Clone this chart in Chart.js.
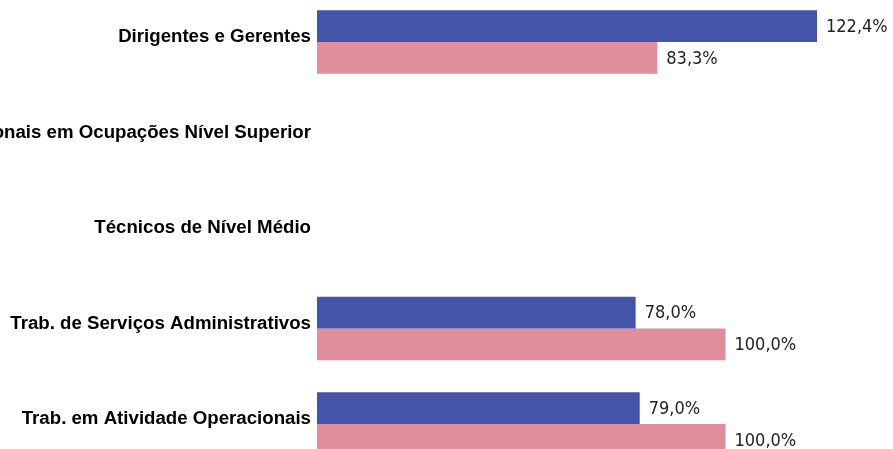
<!DOCTYPE html>
<html>
<head>
<meta charset="utf-8">
<script src="https://cdn.jsdelivr.net/npm/chart.js@4/dist/chart.umd.min.js"></script>
<style>
  html, body { margin: 0; padding: 0; background: #fff; overflow: hidden; }
  body { width: 893px; height: 449px; position: relative; }
  #chart { position: absolute; left: -83px; top: -23px; }
</style>
</head>
<body>
<canvas id="chart" width="976" height="512"></canvas>
<script>
const categories = [
  "Dirigentes e Gerentes",
  "Profissionais em Ocupações Nível Superior",
  "Técnicos de Nível Médio",
  "Trab. de Serviços Administrativos",
  "Trab. em Atividade Operacionais"
];
const serieAzul = [122.4, null, null, 78.0, 79.0];
const serieRosa = [83.3, null, null, 100.0, 100.0];

const fmt = (v) => v.toFixed(1).replace(".", ",") + "%";

const valueLabels = {
  id: "valueLabels",
  afterDatasetsDraw(chart) {
    const ctx = chart.ctx;
    ctx.save();
    ctx.font = "18px 'DejaVu Sans Condensed', 'DejaVu Sans'";
    ctx.fillStyle = "#222";
    ctx.textAlign = "left";
    ctx.textBaseline = "middle";
    chart.data.datasets.forEach((ds, i) => {
      chart.getDatasetMeta(i).data.forEach((bar, j) => {
        const v = ds.data[j];
        if (v == null) return;
        ctx.fillText(fmt(v), bar.x + 9, bar.y + 1);
      });
    });
    ctx.restore();
  },
};

new Chart(document.getElementById("chart"), {
  type: "bar",
  data: {
    labels: categories,
    datasets: [
      {
        label: "A",
        data: serieAzul,
        backgroundColor: "#4454a8",
        categoryPercentage: 0.665,
        barPercentage: 1,
      },
      {
        label: "B",
        data: serieRosa,
        backgroundColor: "#e08e9c",
        categoryPercentage: 0.665,
        barPercentage: 1,
      },
    ],
  },
  options: {
    indexAxis: "y",
    responsive: false,
    animation: false,
    layout: { padding: 0 },
    plugins: {
      legend: { display: false },
      tooltip: { enabled: false },
    },
    scales: {
      x: { display: false, min: 0, max: 141 },
      y: {
        afterFit: (scale) => { scale.width = 400; },
        grid: { display: false, drawTicks: false },
        border: { display: false },
        ticks: {
          padding: 6,
          labelOffset: -5,
          color: "#000",
          font: { family: "'Liberation Sans', Arial", size: 18.67, weight: "bold" },
        },
      },
    },
  },
  plugins: [valueLabels],
});
</script>
</body>
</html>
